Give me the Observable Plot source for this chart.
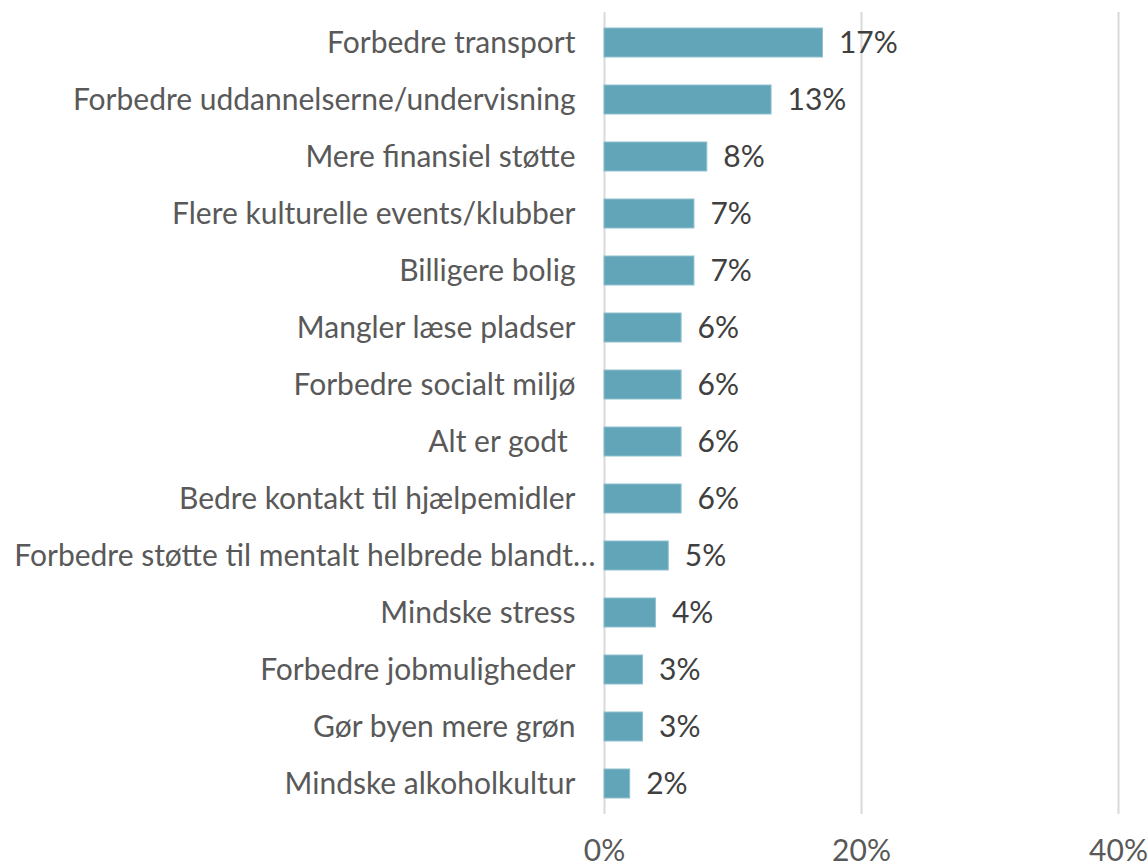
<!DOCTYPE html>
<html>
<head>
<meta charset="utf-8">
<script src="https://cdn.jsdelivr.net/npm/d3@7"></script>
<script src="https://cdn.jsdelivr.net/npm/@observablehq/plot@0.6"></script>
<style>
  html, body { margin: 0; padding: 0; background: #fff; }
</style>
</head>
<body>
<div id="chart"></div>
<script>
const categories = [
  "Forbedre transport",
  "Forbedre uddannelserne/undervisning",
  "Mere finansiel støtte",
  "Flere kulturelle events/klubber",
  "Billigere bolig",
  "Mangler læse pladser",
  "Forbedre socialt miljø",
  "Alt er godt ",
  "Bedre kontakt til hjælpemidler",
  "Forbedre støtte til mentalt helbrede blandt…",
  "Mindske stress",
  "Forbedre jobmuligheder",
  "Gør byen mere grøn",
  "Mindske alkoholkultur"
];
const values = [0.17, 0.13, 0.08, 0.07, 0.07, 0.06, 0.06, 0.06, 0.06, 0.05, 0.04, 0.03, 0.03, 0.02];
const xTicks = [0, 0.2, 0.4];
const truncatedLabel = "Forbedre støtte til mentalt helbrede blandt…";

const data = categories.map((c, i) => ({category: c, value: values[i]}));
const pct = d3.format(".0%");

const chart = Plot.plot({
  width: 1148,
  height: 868,
  marginLeft: 604,
  marginRight: 30,
  marginTop: 12,
  marginBottom: 54,
  style: {fontFamily: "Lato, 'Open Sans', sans-serif", fontSize: "30px", color: "#595959", background: "#fff"},
  x: {domain: [0, 0.4], ticks: xTicks, tickFormat: pct},
  y: {domain: categories, paddingInner: 0.49, paddingOuter: 0.245},
  marks: [
    Plot.ruleX(xTicks, {stroke: "#d9d9d9", strokeWidth: 2}),
    Plot.barX(data, {x: "value", y: "category", fill: "#62a5b8", stroke: "#8fc0ce", strokeWidth: 1}),
    Plot.text(data, {x: "value", y: "category", text: d => pct(d.value), dx: 16, textAnchor: "start", fill: "#404040", fontSize: 30}),
    Plot.axisY({ticks: categories.filter(c => c !== truncatedLabel), tickSize: 0, tickPadding: 29, label: null, fill: "#595959"}),
    Plot.axisY({ticks: [truncatedLabel], tickSize: 0, tickPadding: 9, label: null, fill: "#595959"}),
    Plot.axisX({ticks: xTicks, tickFormat: pct, tickSize: 0, tickPadding: 25, label: null, fill: "#595959"})
  ]
});
document.getElementById("chart").appendChild(chart);
</script>
</body>
</html>
